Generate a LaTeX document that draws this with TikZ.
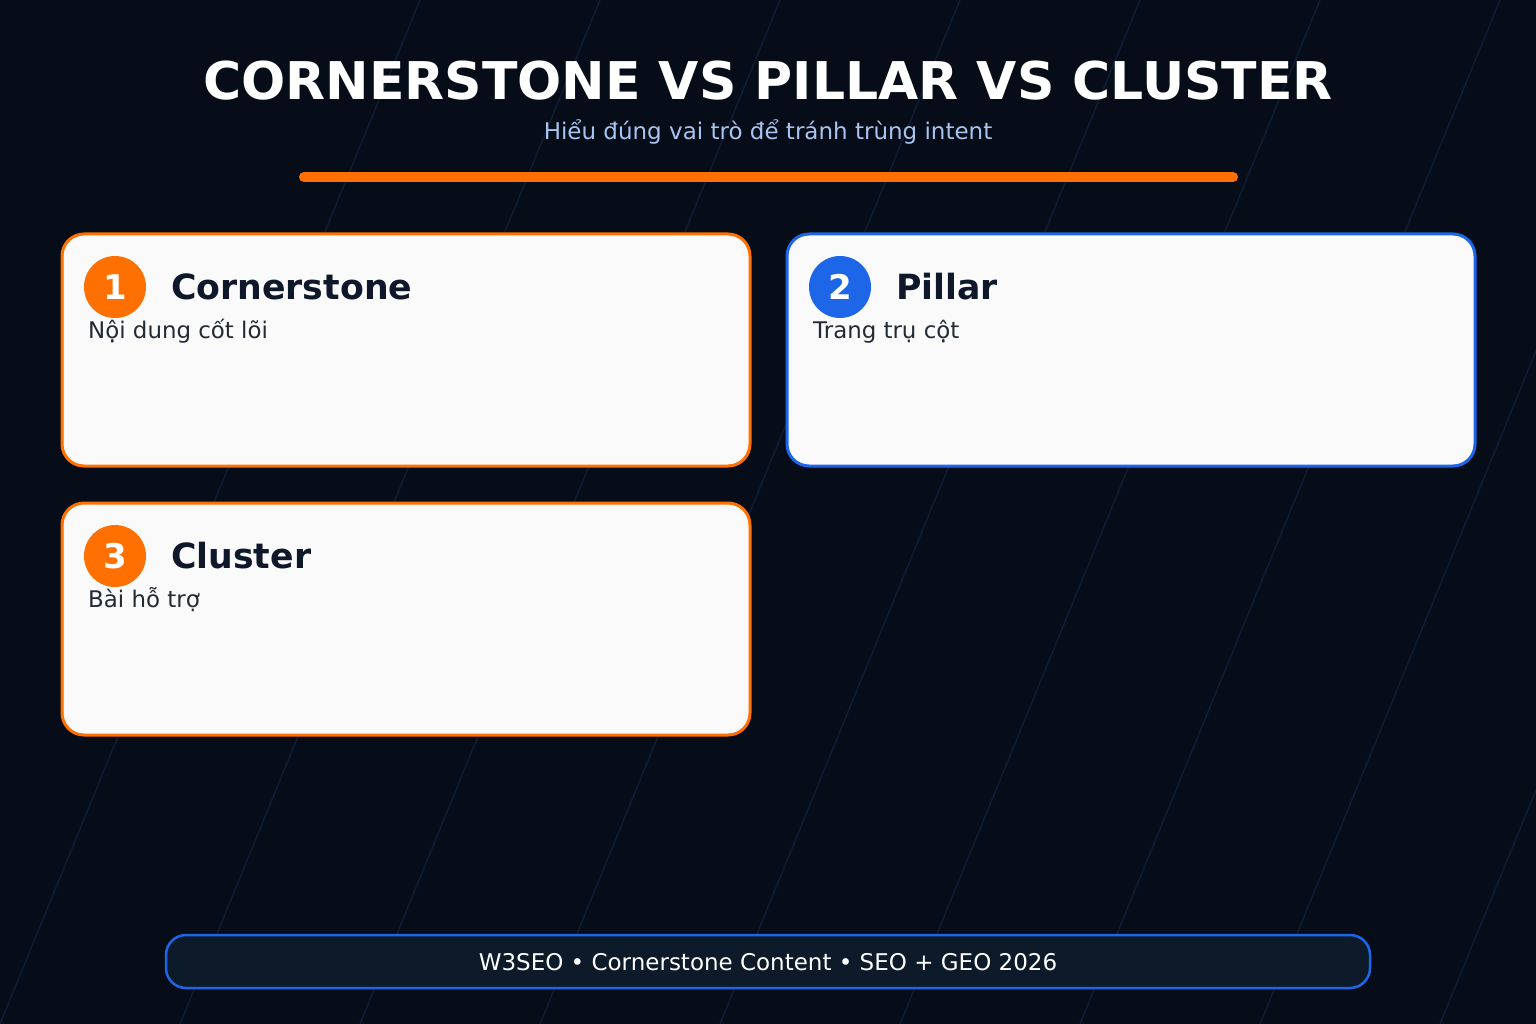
\documentclass[tikz,border=0pt]{standalone}
\usepackage{fontspec}
\setmainfont{DejaVu Sans}
\definecolor{bg}{HTML}{060D18}
\definecolor{stripe}{HTML}{0C1D34}
\definecolor{orng}{HTML}{FF7000}
\definecolor{blu}{HTML}{1E66E8}
\definecolor{cardfill}{HTML}{FAFAFA}
\definecolor{ink}{HTML}{0F172A}
\definecolor{desc}{HTML}{222A36}
\definecolor{subt}{HTML}{A8C4F0}
\definecolor{footfill}{HTML}{0C1A2A}
\tikzset{
  card/.style={draw=#1, line width=3pt, fill=cardfill, rounded corners=22pt},
  badge/.style={circle, fill=#1, minimum size=62pt, inner sep=0pt, text=white, font=\bfseries\fontsize{34}{36}\selectfont},
  cardtitle/.style={anchor=base west, inner sep=0pt, text=ink, font=\bfseries\fontsize{34.7}{38}\selectfont},
  carddesc/.style={anchor=base west, inner sep=0pt, text=desc, font=\fontsize{22.9}{26}\selectfont},
}
\begin{document}
\begin{tikzpicture}[x=1pt,y=-1pt]
\useasboundingbox (0,0) rectangle (1536,1024);
\fill[bg] (0,0) rectangle (1536,1024);
\begin{scope}
\clip (0,0) rectangle (1536,1024);
\foreach \k in {0,...,9}{
  \draw[stripe, line width=1.5pt] ({180*\k},1024) -- ({180*\k+420},0);
}
\end{scope}
% title
\node[anchor=base, inner sep=0pt, text=white, font=\bfseries\fontsize{52}{58}\selectfont] (title) at (768,100) {CORNERSTONE VS PILLAR VS CLUSTER};
\node[anchor=base, inner sep=0pt, text=subt, font=\fontsize{23}{26}\selectfont] (subtitle) at (768,140) {Hiểu đúng vai trò để tránh trùng intent};
\coordinate (barL) at (304,177);
\coordinate (barR) at (1233,177);
\draw[orng, line width=10pt, line cap=round] (barL) -- (barR);
% cards
\draw[card=orng] (62,234) rectangle (750,466);
\draw[card=blu] (787,234) rectangle (1475,466);
\draw[card=orng] (62,503) rectangle (750,735);
% card 1
\node[badge=orng] (b1) at (115,287) {1};
\node[cardtitle] (t1) at (171,299) {Cornerstone};
\node[carddesc] (d1) at (88,338) {Nội dung cốt lõi};
% card 2
\node[badge=blu] (b2) at (840,287) {2};
\node[cardtitle] (t2) at (896,299) {Pillar};
\node[carddesc] (d2) at (813,338) {Trang trụ cột};
% card 3
\node[badge=orng] (b3) at (115,556) {3};
\node[cardtitle] (t3) at (171,568) {Cluster};
\node[carddesc] (d3) at (88,607) {Bài hỗ trợ};
% footer
\draw[blu, line width=2.5pt, fill=footfill, rounded corners=20pt] (166,935) rectangle (1370,988);
\node[anchor=base, inner sep=0pt, text=white, font=\fontsize{23}{26}\selectfont] (foot) at (768,970) {W3SEO • Cornerstone Content • SEO + GEO 2026};
\end{tikzpicture}
\end{document}
